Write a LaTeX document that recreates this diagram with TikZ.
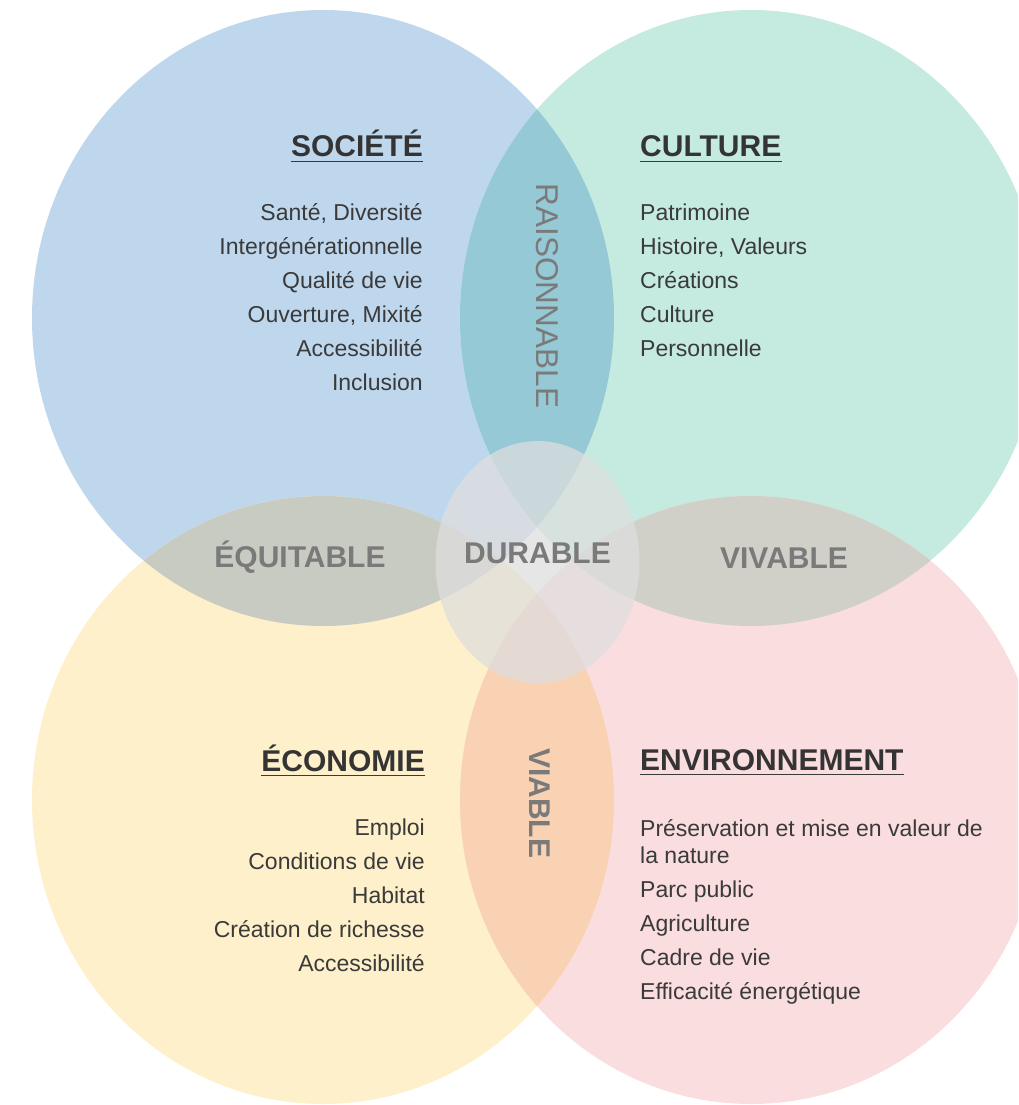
\documentclass[tikz,border=0pt]{standalone}
\usepackage{fontspec}
\setmainfont{Liberation Sans}
\definecolor{cblue}{RGB}{191,215,237}
\definecolor{cgreen}{RGB}{197,234,224}
\definecolor{cyellow}{RGB}{254,240,202}
\definecolor{cpink}{RGB}{250,221,222}
\definecolor{cteal}{RGB}{148,201,213}
\definecolor{cgrayL}{RGB}{200,203,193}
\definecolor{cgrayR}{RGB}{208,207,200}
\definecolor{corange}{RGB}{249,210,180}
\definecolor{ccenter}{RGB}{222,222,222}
\definecolor{txt}{RGB}{58,58,58}
\definecolor{lens}{RGB}{122,122,122}
\tikzset{
  item/.style={font=\fontsize{23}{23}\selectfont, text=txt, inner sep=0pt},
  head/.style={font=\fontsize{30}{30}\selectfont\bfseries, text=txt!90!black, inner sep=0pt},
  lenslabel/.style={font=\fontsize{30}{30}\selectfont\bfseries, text=lens, inner sep=0pt},
  lensthin/.style={font=\fontsize{31.5}{31.5}\selectfont, text=lens, inner sep=0pt},
  uline/.style={draw=txt, line width=1.8pt},
}
\begin{document}
\begin{tikzpicture}[x=1pt,y=-1pt]
\useasboundingbox (0,0) rectangle (1018,1105);
\begin{scope}
\clip (0,0) rectangle (1018,1105);
% base circles
\fill[cblue]   (323,318) ellipse [x radius=291pt, y radius=308pt];
\fill[cgreen]  (751,318) ellipse [x radius=291pt, y radius=308pt];
\fill[cyellow] (323,800) ellipse [x radius=291pt, y radius=304pt];
\fill[cpink]   (751,800) ellipse [x radius=291pt, y radius=304pt];
% overlaps
\begin{scope}
  \clip (323,318) ellipse [x radius=291pt, y radius=308pt];
  \fill[cteal] (751,318) ellipse [x radius=291pt, y radius=308pt];
\end{scope}
\begin{scope}
  \clip (323,318) ellipse [x radius=291pt, y radius=308pt];
  \fill[cgrayL] (323,800) ellipse [x radius=291pt, y radius=304pt];
\end{scope}
\begin{scope}
  \clip (751,318) ellipse [x radius=291pt, y radius=308pt];
  \fill[cgrayR] (751,800) ellipse [x radius=291pt, y radius=304pt];
\end{scope}
\begin{scope}
  \clip (323,800) ellipse [x radius=291pt, y radius=304pt];
  \fill[corange] (751,800) ellipse [x radius=291pt, y radius=304pt];
\end{scope}
% central ellipse
\fill[ccenter, fill opacity=0.75] (537.5,562) ellipse [x radius=102pt, y radius=121pt];
\end{scope}

% SOCIETE
\node[head, anchor=base east] (hsoc) at (423,157) {SOCIÉTÉ};
\draw[uline] (hsoc.base west) ++(0,4.5) coordinate (us1) -- (us1 -| hsoc.base east);
\node[item, anchor=base east] (s1) at (423,220.5) {Santé, Diversité};
\node[item, anchor=base east] (s2) at (423,254.5) {Intergénérationnelle};
\node[item, anchor=base east] (s3) at (423,288.5) {Qualité de vie};
\node[item, anchor=base east] (s4) at (423,322.5) {Ouverture, Mixité};
\node[item, anchor=base east] (s5) at (423,356.5) {Accessibilité};
\node[item, anchor=base east] (s6) at (423,390.5) {Inclusion};

% CULTURE
\node[head, anchor=base west] (hcul) at (640,157) {CULTURE};
\draw[uline] (hcul.base west) ++(0,4.5) coordinate (uc1) -- (uc1 -| hcul.base east);
\node[item, anchor=base west] (c1) at (640,220.5) {Patrimoine};
\node[item, anchor=base west] (c2) at (640,254.5) {Histoire, Valeurs};
\node[item, anchor=base west] (c3) at (640,288.5) {Créations};
\node[item, anchor=base west] (c4) at (640,322.5) {Culture};
\node[item, anchor=base west] (c5) at (640,356.5) {Personnelle};

% ECONOMIE
\node[head, anchor=base east] (heco) at (425,771) {ÉCONOMIE};
\draw[uline] (heco.base west) ++(0,4.5) coordinate (ue1) -- (ue1 -| heco.base east);
\node[item, anchor=base east] (e1) at (425,835.5) {Emploi};
\node[item, anchor=base east] (e2) at (425,869.5) {Conditions de vie};
\node[item, anchor=base east] (e3) at (425,903.5) {Habitat};
\node[item, anchor=base east] (e4) at (425,937.5) {Création de richesse};
\node[item, anchor=base east] (e5) at (425,971.5) {Accessibilité};

% ENVIRONNEMENT
\node[head, anchor=base west] (henv) at (640,770) {ENVIRONNEMENT};
\draw[uline] (henv.base west) ++(0,4.5) coordinate (un1) -- (un1 -| henv.base east);
\node[item, anchor=base west] (n1) at (640,836.5) {Préservation et mise en valeur de};
\node[item, anchor=base west] (n1b) at (640,863.5) {la nature};
\node[item, anchor=base west] (n2) at (640,897.5) {Parc public};
\node[item, anchor=base west] (n3) at (640,931.5) {Agriculture};
\node[item, anchor=base west] (n4) at (640,965.5) {Cadre de vie};
\node[item, anchor=base west] (n5) at (640,999.5) {Efficacité énergétique};

% lens labels
\node[lenslabel, anchor=base] (lequ) at (300,567) {ÉQUITABLE};
\node[lenslabel, anchor=base] (ldur) at (537.5,563) {DURABLE};
\node[lenslabel, anchor=base] (lviv) at (784,568) {VIVABLE};
\node[lensthin, rotate=-90] (lrai) at (547,296) {RAISONNABLE};
\node[lenslabel, rotate=-90] (lvia) at (540,803) {VIABLE};
\end{tikzpicture}
\end{document}
